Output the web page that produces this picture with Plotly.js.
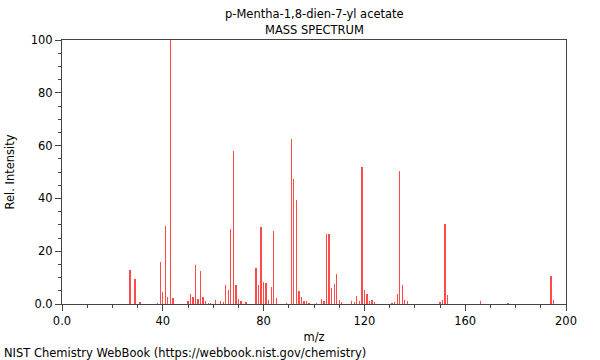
<!DOCTYPE html>
<html>
<head>
<meta charset="utf-8">
<script src="https://cdn.plot.ly/plotly-3.0.1.min.js"></script>
<style>html,body{margin:0;padding:0;background:#fff;}#chart{width:600px;height:360px;}</style>
</head>
<body>
<div id="chart"></div>
<script>
var mz = [27, 29, 31, 38, 39, 40, 41, 42, 43, 44, 50, 51, 52, 53, 54, 55, 56, 57, 58, 59, 61,
  63, 64, 65, 66, 67, 68, 69, 70, 71, 73, 77, 78, 79, 80, 81, 82, 83, 84, 85, 89,
  91, 92, 93, 94, 95, 96, 97, 98, 101, 103, 104, 105, 106, 107, 108, 109, 110, 111,
  115, 116, 117, 118, 119, 120, 121, 122, 123, 124, 131, 132, 133, 134, 135, 136, 137,
  150, 151, 152, 153, 166, 177, 194, 195];
var intensity = [12.9, 9.3, 0.7, 0.5, 16.0, 4.7, 29.5, 2.8, 100, 2.3, 1.0, 3.8, 2.8, 14.8, 2.0, 12.6, 2.8, 1.0, 0.5, 0.5, 1.5,
  1.1, 0.6, 7.2, 5.3, 28.4, 58.0, 7.1, 1.8, 1.0, 0.7, 13.8, 7.2, 29.0, 8.3, 7.8, 1.5, 6.4, 27.8, 2.1, 0.5,
  62.4, 47.3, 39.4, 5.0, 2.8, 1.1, 1.0, 0.5, 0.5, 1.8, 1.0, 26.5, 26.5, 6.0, 7.4, 11.4, 1.5, 0.7,
  1.2, 0.6, 3.0, 1.0, 51.8, 5.3, 3.8, 1.0, 1.4, 0.9, 0.5, 0.6, 3.8, 50.5, 7.3, 1.4, 1.1,
  0.7, 1.4, 30.4, 3.4, 1.1, 0.3, 10.7, 1.5];
var xTickVals = [0, 40, 80, 120, 160, 200];
var xTickText = ["0.0", "40", "80", "120", "160", "200"];
var yTickVals = [0, 20, 40, 60, 80, 100];
var yTickText = ["0.0", "20", "40", "60", "80", "100"];

var trace = {
  type: 'bar', x: mz, y: intensity, width: 0.5,
  marker: {color: '#ff4a4a', line: {width: 0}},
  hoverinfo: 'x+y'
};
var axisCommon = {
  showgrid: false, zeroline: false, showline: true, mirror: true,
  linecolor: '#444', linewidth: 1, ticks: 'outside', tickcolor: '#444',
  ticklen: 6, tickwidth: 1, tickfont: {family: 'DejaVu Sans', size: 11.5, color: '#000'}
};
var f = {family: 'DejaVu Sans', size: 11.5, color: '#000'};
var layout = {
  width: 600, height: 360,
  margin: {l: 62, r: 34, t: 40, b: 56},
  paper_bgcolor: '#fff', plot_bgcolor: '#fff',
  font: f,
  showlegend: false, bargap: 0,
  xaxis: Object.assign({}, axisCommon, {
    range: [0, 200], tickvals: xTickVals, ticktext: xTickText,
    minor: {dtick: 10, tick0: 0, ticks: 'outside', ticklen: 3, tickcolor: '#444', showgrid: false},
    title: {text: 'm/z', font: f, standoff: 6}
  }),
  yaxis: Object.assign({}, axisCommon, {
    range: [0, 100], tickvals: yTickVals, ticktext: yTickText,
    minor: {dtick: 5, tick0: 0, ticks: 'outside', ticklen: 3, tickcolor: '#444', showgrid: false},
    title: {text: 'Rel. Intensity', font: f, standoff: 13}
  }),
  annotations: [
    {text: 'p-Mentha-1,8-dien-7-yl acetate', xref: 'paper', yref: 'paper', x: 0.5, y: 1.098,
      xanchor: 'center', yanchor: 'middle', showarrow: false, font: f},
    {text: 'MASS SPECTRUM', xref: 'paper', yref: 'paper', x: 0.5, y: 1.036,
      xanchor: 'center', yanchor: 'middle', showarrow: false, font: f},
    {text: 'NIST Chemistry WebBook (https://webbook.nist.gov/chemistry)',
      xref: 'paper', yref: 'paper', x: -0.12, y: -0.186, xanchor: 'left', yanchor: 'middle',
      showarrow: false, font: f}
  ]
};
Plotly.newPlot('chart', [trace], layout, {displayModeBar: false, staticPlot: true});
</script>
</body>
</html>
